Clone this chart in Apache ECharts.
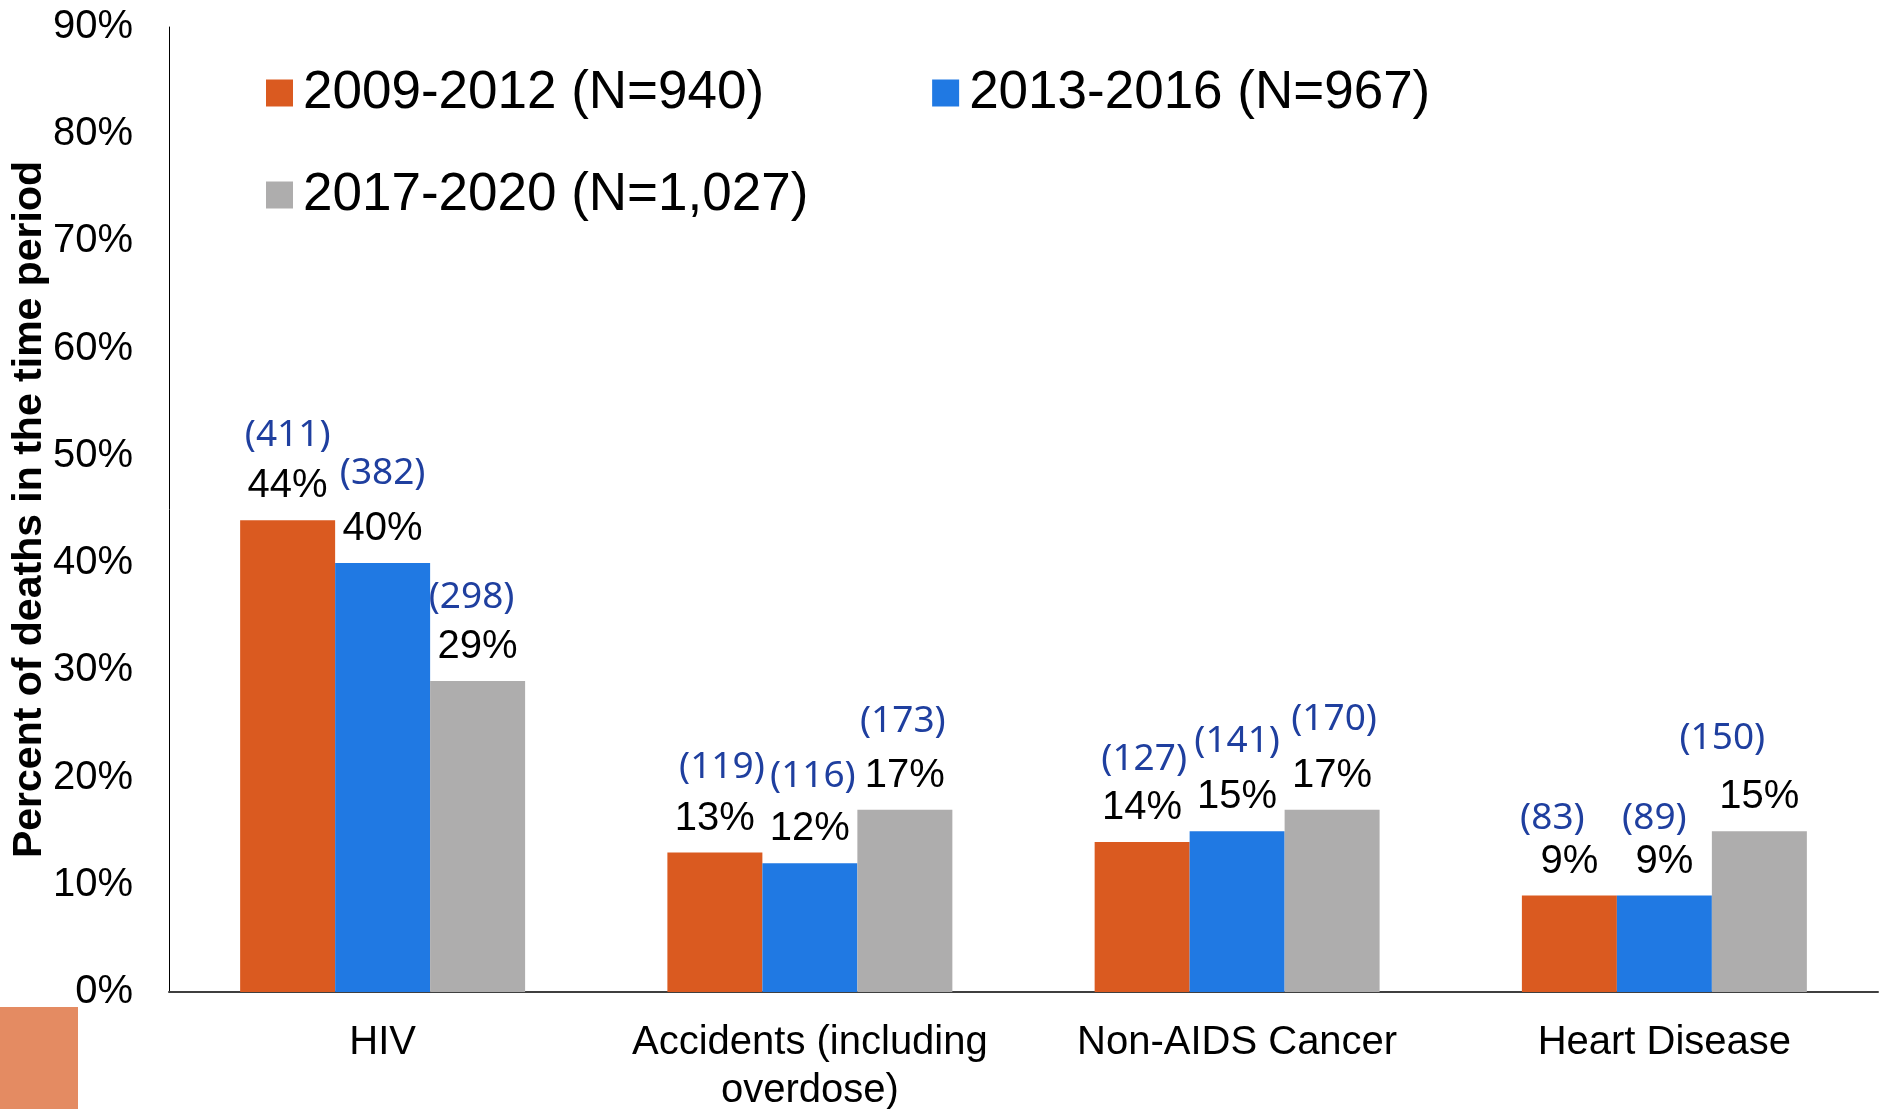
<!DOCTYPE html>
<html>
<head>
<meta charset="utf-8">
<title>Percent of deaths by cause</title>
<script src="https://cdn.jsdelivr.net/npm/echarts@6/dist/echarts.min.js"></script>
<style>
  html, body { margin: 0; padding: 0; background: #fff; }
  #chart { width: 1885px; height: 1109px; }
</style>
</head>
<body>
<div id="chart"></div>
<script>
// categories and periods
var categories = ["HIV", "Accidents (including\noverdose)", "Non-AIDS Cancer", "Heart Disease"];
var periods = ["2009-2012 (N=940)", "2013-2016 (N=967)", "2017-2020 (N=1,027)"];

// percent of deaths in the period
var pct0912 = [44, 13, 14, 9];
var pct1316 = [40, 12, 15, 9];
var pct1720 = [29, 17, 17, 15];

// number of deaths (shown in blue above the percent)
var n0912 = [411, 119, 127, 83];
var n1316 = [382, 116, 141, 89];
var n1720 = [298, 173, 170, 150];

// y axis ticks
var yMin = 0, yMax = 90, yStep = 10;

// label nudges copied from the slide (count label gap above percent, x shift)
var gap0912 = [59, 60, 55, 45], shift0912 = [0, 7, 2, -17];
var gap1316 = [70, 64, 70, 45], shift1316 = [0, 3, 0, -10];
var gap1720 = [58, 67, 71, 75], shift1720 = [-6, -2, 2, -37];

var colors = ["#DA5A20", "#2079E3", "#AEADAD"];
var font = "Liberation Sans, Arial, Helvetica, sans-serif";

function buildData(pct, cnt, gaps, shifts) {
  return pct.map(function(v, i) {
    var s = shifts[i];
    var pb = gaps[i] - 42;
    return {
      value: v,
      label: {
        formatter: "{n|(" + cnt[i] + ")}\n{p|" + v + "%}",
        rich: {
          n: {
            fontFamily: "Noto Sans, Lato, sans-serif",
            fontSize: 37,
            lineHeight: 40,
            color: "#1F3F9F",
            padding: [0, s < 0 ? -2 * s : 0, pb, s > 0 ? 2 * s : 0]
          },
          p: {
            fontFamily: font,
            fontSize: 40,
            lineHeight: 44,
            color: "#000"
          }
        }
      }
    };
  });
}

function barSeries(name, data, color) {
  return {
    name: name,
    type: "bar",
    data: data,
    itemStyle: { color: color },
    barGap: "0%",
    barCategoryGap: "33.3%",
    label: { show: true, position: "top", distance: 12 }
  };
}

var legendText = { fontFamily: font, fontSize: 53, lineHeight: 56, color: "#000", padding: [0, 0, 0, 5] };

var option = {
  animation: false,
  backgroundColor: "#fff",
  grid: { left: 169, right: 7, top: 27, bottom: 117, containLabel: false, outerBoundsMode: "none" },
  legend: [
    {
      data: [periods[0], periods[1]],
      left: 266, top: 65, padding: 0,
      itemGap: 168, itemWidth: 27, itemHeight: 27,
      icon: "rect",
      textStyle: legendText
    },
    {
      data: [periods[2]],
      left: 266, top: 167, padding: 0,
      itemWidth: 27, itemHeight: 27,
      icon: "rect",
      textStyle: legendText
    }
  ],
  xAxis: {
    type: "category",
    data: categories,
    axisLine: { show: true, lineStyle: { color: "#3F3F3F", width: 2 } },
    axisTick: { show: false },
    axisLabel: {
      interval: 0,
      margin: 27,
      fontFamily: font,
      fontSize: 40,
      lineHeight: 48,
      color: "#000"
    }
  },
  yAxis: {
    type: "value",
    min: yMin, max: yMax, interval: yStep,
    name: "Percent of deaths in the time period",
    nameLocation: "middle",
    nameGap: 119,
    nameMoveOverlap: false,
    nameTextStyle: { fontFamily: font, fontSize: 41, fontWeight: "bold", color: "#000" },
    axisLine: { show: true, lineStyle: { color: "#000", width: 1 } },
    axisTick: { show: false },
    splitLine: { show: false },
    axisLabel: {
      formatter: "{value}%",
      margin: 36,
      fontFamily: font,
      fontSize: 40,
      color: "#000"
    }
  },
  graphic: [
    { type: "rect", left: 0, top: 1007, shape: { width: 78, height: 102 }, style: { fill: "#E48B62" } }
  ],
  series: [
    barSeries(periods[0], buildData(pct0912, n0912, gap0912, shift0912), colors[0]),
    barSeries(periods[1], buildData(pct1316, n1316, gap1316, shift1316), colors[1]),
    barSeries(periods[2], buildData(pct1720, n1720, gap1720, shift1720), colors[2])
  ]
};

var chart = echarts.init(document.getElementById("chart"));
chart.setOption(option);
</script>
</body>
</html>
